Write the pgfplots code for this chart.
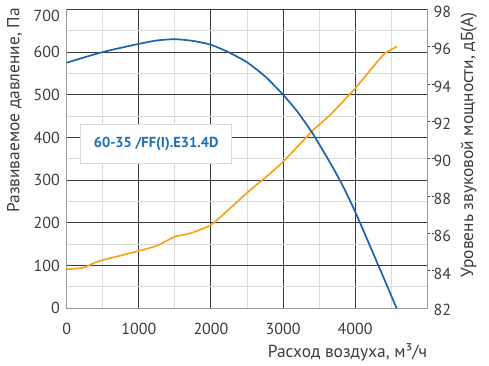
\documentclass[border=0pt]{standalone}
\usepackage{pgfplots}
\pgfplotsset{compat=1.18}
\usetikzlibrary{calc}
\usepackage{fontspec}
\setmainfont{PT Sans}
\definecolor{txt}{HTML}{3C3C3C}
\definecolor{blu}{HTML}{1A63AE}
\definecolor{boxblu}{HTML}{1F6DB5}
\definecolor{org}{HTML}{F8A41C}
\definecolor{gmaj}{HTML}{3A3A3A}
\definecolor{gmin}{HTML}{DADADA}
\definecolor{frm}{HTML}{9A9A9A}
\begin{document}
\begin{tikzpicture}
\useasboundingbox (0,0) rectangle (489pt,366pt);
\pgfplotsset{base/.style={scale only axis, width=360.6pt, height=299pt,
  at={(66.7pt,57.7pt)}, anchor=south west, xmin=0, xmax=5000,
  /pgf/number format/assume math mode=true,
  /pgf/number format/1000 sep={},
  tick label style={font=\fontsize{16}{17}\selectfont, text=txt},
  label style={font=\fontsize{17.4}{19}\selectfont, text=txt}}}
% primary axis: grid, left scale, labels
\begin{axis}[base, ymin=0, ymax=700, clip=false,
  ytick={0,100,...,600}, extra y ticks={700},
  extra y tick style={yticklabel style={yshift=-6.5pt}, grid style={frm}},
  xtick={0,1000,...,4000}, minor xtick={500,1500,...,4500},
  minor ytick={50,150,...,650},
  grid=both, major grid style={gmaj, line width=1pt},
  minor grid style={gmin, line width=1pt},
  axis line style={frm, line width=1pt},
  major tick length=0pt, minor tick length=0pt,
  xticklabel style={anchor=north, inner sep=0pt, yshift=-14.4pt},
  yticklabel style={anchor=east, inner sep=0pt, xshift=-6.7pt},
  xlabel={Расход воздуха, м³/ч},
  xlabel style={at={($(rel axis cs:1,0)+(0pt,-48.7pt)$)}, anchor=base east, inner sep=0pt},
  ylabel={Развиваемое давление, Па},
  ylabel style={rotate=0, at={($(rel axis cs:0,1)+(-47.2pt,1.3pt)$)}, anchor=base east, inner sep=0pt},
]
\node[draw=gmin, fill=white, line width=1pt, minimum width=151pt, minimum height=39pt,
  inner sep=0pt, font=\fontsize{14.5}{16}\selectfont\bfseries, text=boxblu]
  at (axis cs:1241,385) {60-35 /FF(I).E31.4D};
% dashed tick marks of the right scale (84..96 dB -> 87.5..612.5 on this scale)
\pgfplotsinvokeforeach{87.5,175,262.5,350,437.5,525,612.5}{
  \draw[gmaj, line width=1pt] (axis cs:5000,#1) ++(0.6pt,0) -- ++(2.2pt,0) ++(1.4pt,0) -- ++(2.2pt,0);
}
\end{axis}
% secondary axis: right scale, orange curve
\begin{axis}[base, ymin=82, ymax=98, axis x line=none, axis y line*=right,
  axis line style={frm, line width=1pt},
  ytick={82,84,...,98}, major tick length=0pt,
  yticklabel style={anchor=west, inner sep=0pt, xshift=6.2pt, yshift=-2.5pt},
  ylabel={Уровень звуковой мощности, дБ(А)},
  ylabel style={rotate=0, at={($(rel axis cs:1,1)+(45.7pt,-2.7pt)$)}, anchor=base east, inner sep=0pt},
  yticklabels={\raisebox{2.5pt}{82},84,86,88,90,92,94,96,\raisebox{-7.2pt}{98}},
]
\addplot[org, line width=1.7pt, smooth, tension=0.35] coordinates {
(0,84.09) (230,84.17) (370,84.41) (500,84.58) (1000,85.07) (1250,85.35)
(1500,85.83) (1710,86.01) (2000,86.46) (2265,87.35) (2518,88.24) (2795,89.13)
(3000,89.84) (3420,91.54) (3650,92.34) (4000,93.77) (4250,94.93) (4410,95.64) (4580,96.0)
};
\end{axis}
% blue curve on top, left scale
\begin{axis}[base, ymin=0, ymax=700, axis lines=none]
\addplot[blu, line width=1.7pt, smooth, tension=0.4] coordinates {
(0,575) (500,600) (1000,619) (1250,627) (1500,630) (1750,626) (2000,617)
(2250,599) (2500,576) (2750,543) (3000,500) (3200,460) (3400,412) (3600,356)
(3800,296) (4000,226) (4330,97) (4575,0)
};
\end{axis}
\end{tikzpicture}
\end{document}
